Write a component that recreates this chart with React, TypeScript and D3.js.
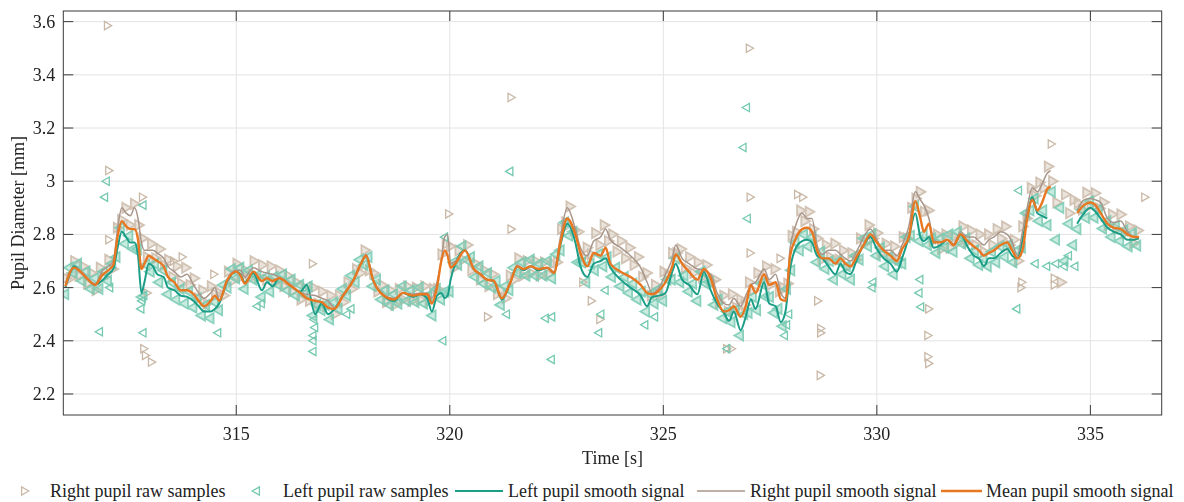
import * as d3 from 'd3';
import React from 'react';

// axis ticks
const timeTicks = [315, 320, 325, 330, 335];
const diamTicks = [2.2, 2.4, 2.6, 2.8, 3, 3.2, 3.4, 3.6];

// smooth signals (null = gap in the signal)
const smoothTime = [
  311.00, 311.10, 311.20, 311.35, 311.50, 311.70, 311.85, 312.00, 312.12, 312.22,
  312.32, 312.42, 312.52, 312.62, 312.70, 312.78, 312.85, 312.95, 313.05, 313.15,
  313.30, 313.40, 313.55, 313.70, 313.85, 314.00, 314.12, 314.25, 314.40, 314.50,
  314.60, 314.78, 315.00, 315.10, 315.20, 315.40, 315.60, 315.72, 315.85, 316.00,
  316.25, 316.50, 316.65, 316.85, 317.00, 317.15, 317.30, 317.50, 317.75, 317.92,
  318.04, 318.20, 318.45, 318.70, 318.90, 319.15, 319.31, 319.47, 319.58, 319.70,
  319.80, 319.88, 319.95, 320.02, 320.13, 320.36, 320.56, 320.72, 320.87, 321.03,
  321.22, 321.42, 321.58, 321.73, 321.89, 322.08, 322.28, 322.44, 322.59, 322.75,
  322.94, 323.06, 323.22, 323.37, 323.53, 323.65, 323.76, 324.00, 324.23, 324.47,
  324.62, 324.74, 324.90, 325.05, 325.21, 325.29, 325.44, 325.60, 325.80, 325.95,
  326.11, 326.26, 326.42, 326.54, 326.65, 326.81, 326.93, 327.05, 327.16, 327.36,
  327.48, 327.63, 327.75, 327.86, 327.97, 328.09, 328.25, 328.37, 328.48, 328.60,
  328.72, 328.87, 329.03, 329.15, 329.26, 329.38, 329.54, 329.69, 329.85, 330.00,
  330.16, 330.32, 330.47, 330.59, 330.75, 330.90, 331.02, 331.10, 331.22, 331.33,
  331.49, 331.65, 331.80, 331.96, 332.12, 332.27, 332.39, 332.51, 332.62, 332.74,
  332.90, 333.05, 333.17, 333.29, 333.41, 333.52, 333.64, 333.76, 333.87, 333.99,
  334.07, 334.35, 334.69, 334.85, 335.00, 335.12, 335.24, 335.40, 335.55, 335.71,
  335.87, 336.02, 336.14,
];

const leftSmooth = [
  2.60, 2.65, 2.68, 2.66, 2.635, 2.61, 2.625, 2.65, 2.67, 2.75,
  2.81, 2.79, 2.77, 2.77, 2.72, 2.58, 2.62, 2.69, 2.68, 2.65,
  2.64, 2.60, 2.59, 2.57, 2.565, 2.55, 2.53, 2.51, 2.51, 2.52,
  2.54, 2.62, 2.66, 2.65, 2.62, 2.655, 2.59, 2.62, 2.605, 2.635,
  2.61, 2.585, 2.61, 2.50, 2.54, 2.50, 2.52, 2.57, 2.63, 2.69,
  2.72, 2.63, 2.57, 2.55, 2.58, 2.565, 2.575, 2.56, 2.51, 2.57,
  2.58, 2.56, 2.57, 2.63, 2.69, 2.74, 2.67, 2.65, 2.63, 2.625,
  2.555, 2.62, 2.68, 2.665, 2.68, 2.665, 2.675, 2.655, 2.76, 2.84,
  2.77, 2.68, 2.64, 2.69, 2.70, 2.71, 2.675, 2.63, 2.60, 2.57,
  2.53, 2.565, 2.57, 2.58, 2.66, 2.69, 2.63, 2.61, 2.575, 2.66,
  2.59, 2.54, 2.505, 2.475, 2.51, 2.44, 2.49, 2.555, 2.52, 2.62,
  2.54, 2.53, 2.47, 2.51, 2.67, 2.745, 2.775, 2.78, 2.77, 2.72,
  2.71, 2.68, 2.65, 2.69, 2.66, 2.65, 2.71, 2.76, 2.79, 2.745,
  2.71, 2.69, 2.66, 2.71, 2.79, 2.88, 2.79, 2.775, 2.79, 2.75,
  2.76, 2.78, 2.76, 2.80, 2.755, 2.72, 2.71, 2.68, 2.71, 2.71,
  2.73, 2.745, 2.72, 2.71, 2.78, 2.87, 2.94, 2.88, 2.87, 2.86,
  null, null, 2.84, 2.88, 2.90, 2.885, 2.86, 2.825, 2.81, 2.80,
  2.78, 2.78, 2.785,
];

const rightSmooth = [
  2.61, 2.66, 2.675, 2.665, 2.64, 2.615, 2.66, 2.68, 2.70, 2.82,
  2.90, 2.88, 2.87, 2.90, 2.86, 2.77, 2.74, 2.74, 2.74, 2.73,
  2.71, 2.68, 2.66, 2.64, 2.65, 2.61, 2.58, 2.56, 2.58, 2.60,
  2.555, 2.63, 2.665, 2.665, 2.64, 2.675, 2.66, 2.655, 2.65, 2.64,
  2.615, 2.58, 2.575, 2.57, 2.56, 2.55, 2.525, 2.57, 2.63, 2.69,
  2.725, 2.63, 2.575, 2.56, 2.58, 2.575, 2.58, 2.58, 2.56, 2.62,
  2.70, 2.79, 2.80, 2.69, 2.70, 2.74, 2.67, 2.65, 2.63, 2.625,
  2.56, 2.625, 2.685, 2.67, 2.68, 2.67, 2.675, 2.66, 2.79, 2.90,
  2.82, 2.75, 2.72, 2.775, 2.79, 2.82, 2.78, 2.75, 2.72, 2.675,
  2.62, 2.58, 2.60, 2.65, 2.71, 2.76, 2.71, 2.69, 2.67, 2.665,
  2.65, 2.58, 2.54, 2.535, 2.56, 2.53, 2.57, 2.61, 2.62, 2.67,
  2.63, 2.65, 2.58, 2.56, 2.75, 2.83, 2.88, 2.86, 2.86, 2.76,
  2.725, 2.74, 2.74, 2.725, 2.71, 2.70, 2.74, 2.79, 2.82, 2.78,
  2.74, 2.74, 2.72, 2.76, 2.83, 2.96, 2.93, 2.91, 2.86, 2.78,
  2.77, 2.78, 2.765, 2.81, 2.79, 2.79, 2.775, 2.76, 2.78, 2.79,
  2.81, 2.80, 2.77, 2.72, 2.81, 2.90, 2.975, 2.96, 2.99, 3.03,
  3.04, null, 2.89, 2.93, 2.935, 2.93, 2.92, 2.86, 2.845, 2.85,
  2.81, 2.79, 2.79,
];

const meanSmooth = [
  2.605, 2.655, 2.675, 2.66, 2.635, 2.61, 2.645, 2.665, 2.685, 2.79,
  2.85, 2.83, 2.82, 2.82, 2.78, 2.67, 2.69, 2.72, 2.71, 2.70,
  2.68, 2.64, 2.62, 2.59, 2.59, 2.575, 2.55, 2.53, 2.55, 2.57,
  2.55, 2.625, 2.66, 2.645, 2.615, 2.66, 2.625, 2.635, 2.625, 2.635,
  2.61, 2.58, 2.56, 2.55, 2.545, 2.525, 2.52, 2.57, 2.63, 2.69,
  2.72, 2.63, 2.57, 2.555, 2.58, 2.57, 2.575, 2.575, 2.54, 2.60,
  2.70, 2.74, 2.72, 2.675, 2.69, 2.74, 2.67, 2.65, 2.63, 2.625,
  2.56, 2.62, 2.68, 2.67, 2.68, 2.67, 2.675, 2.655, 2.77, 2.86,
  2.80, 2.73, 2.68, 2.73, 2.72, 2.75, 2.69, 2.66, 2.64, 2.61,
  2.58, 2.575, 2.59, 2.62, 2.68, 2.725, 2.69, 2.66, 2.63, 2.67,
  2.635, 2.555, 2.51, 2.515, 2.53, 2.49, 2.53, 2.61, 2.58, 2.65,
  2.61, 2.62, 2.556, 2.55, 2.72, 2.78, 2.82, 2.825, 2.81, 2.74,
  2.71, 2.71, 2.69, 2.71, 2.69, 2.68, 2.72, 2.76, 2.80, 2.77,
  2.74, 2.72, 2.70, 2.745, 2.79, 2.925, 2.86, 2.81, 2.84, 2.77,
  2.77, 2.78, 2.76, 2.80, 2.775, 2.755, 2.74, 2.72, 2.73, 2.74,
  2.76, 2.77, 2.74, 2.71, 2.74, 2.86, 2.93, 2.89, 2.92, 2.97,
  2.98, null, 2.88, 2.91, 2.92, 2.91, 2.88, 2.84, 2.825, 2.82,
  2.80, 2.79, 2.79,
];

// raw samples, one every 0.1 s starting at 311.0 s (one row per second)
const rawStart = 311.0;
const rawStep = 0.1;

const rightRaw = [
  2.635, 2.635, 2.70, 2.645, 2.68, 2.615, 2.655, 2.59, 2.675, 2.64,
  2.705, 2.67, 2.825, 2.855, 2.90, 2.835, 2.915, 2.835, 2.785, 2.715,
  2.765, 2.71, 2.745, 2.685, 2.705, 2.64, 2.68, 2.615, 2.675, 2.61,
  2.635, 2.56, 2.59, 2.54, 2.605, 2.575, 2.58, 2.57, 2.66, 2.625,
  2.69, 2.64, 2.665, 2.635, 2.70, 2.64, 2.685, 2.63, 2.68, 2.62,
  2.665, 2.605, 2.645, 2.585, 2.62, 2.555, 2.60, 2.55, 2.60, 2.54,
  2.585, 2.53, 2.57, 2.50, 2.57, 2.545, 2.62, 2.595, 2.67, 2.655,
  2.74, 2.665, 2.655, 2.585, 2.61, 2.545, 2.59, 2.535, 2.595, 2.555,
  2.605, 2.55, 2.60, 2.555, 2.605, 2.55, 2.595, 2.595, 2.725, 2.765,
  2.755, 2.675, 2.74, 2.705, 2.76, 2.665, 2.69, 2.63, 2.665, 2.605,
  2.65, 2.575, 2.59, 2.56, 2.645, 2.63, 2.71, 2.645, 2.70, 2.655,
  2.70, 2.645, 2.695, 2.65, 2.69, 2.695, 2.82, 2.845, 2.905, 2.815,
  2.81, 2.715, 2.75, 2.725, 2.805, 2.76, 2.835, 2.775, 2.80, 2.735,
  2.775, 2.71, 2.75, 2.685, 2.715, 2.64, 2.655, 2.57, 2.61, 2.575,
  2.66, 2.645, 2.73, 2.73, 2.745, 2.675, 2.715, 2.655, 2.695, 2.64,
  2.685, 2.625, 2.63, 2.545, 2.57, 2.51, 2.575, 2.525, 2.555, 2.535,
  2.62, 2.59, 2.655, 2.63, 2.68, 2.61, 2.67, 2.585, 2.60, 2.615,
  2.795, 2.81, 2.89, 2.85, 2.885, 2.82, 2.785, 2.705, 2.76, 2.715,
  2.765, 2.705, 2.74, 2.68, 2.73, 2.705, 2.785, 2.765, 2.835, 2.785,
  2.805, 2.73, 2.765, 2.715, 2.755, 2.705, 2.79, 2.785, 2.90, 2.935,
  2.96, 2.885, 2.89, 2.775, 2.80, 2.745, 2.80, 2.75, 2.79, 2.77,
  2.83, 2.77, 2.815, 2.76, 2.80, 2.735, 2.80, 2.76, 2.82, 2.785,
  2.83, 2.76, 2.78, 2.70, 2.83, 2.86, 2.975, 2.945, 2.995, 2.975,
  3.055, 3.00, 2.92, 2.62, 2.95, 2.88, 2.93, 2.918, 2.893, 2.957,
  2.91, 2.955, 2.898, 2.921, 2.835, 2.875, 2.822, 2.875, 2.805, 2.83,
  2.767, 2.815,
];

const leftRaw = [
  2.575, 2.675, 2.655, 2.69, 2.625, 2.66, 2.595, 2.635, 2.595, 2.66,
  2.625, 2.69, 2.715, 2.825, 2.765, 2.795, 2.745, 2.745, 2.565, 2.685,
  2.66, 2.69, 2.62, 2.665, 2.575, 2.62, 2.555, 2.595, 2.54, 2.585,
  2.525, 2.56, 2.495, 2.535, 2.485, 2.545, 2.515, 2.61, 2.60, 2.67,
  2.635, 2.675, 2.595, 2.665, 2.63, 2.645, 2.565, 2.64, 2.585, 2.64,
  2.61, 2.65, 2.59, 2.63, 2.57, 2.61, 2.575, 2.605, 2.495, 2.535,
  2.515, 2.535, 2.48, 2.545, 2.52, 2.595, 2.57, 2.645, 2.62, 2.705,
  2.685, 2.715, 2.605, 2.63, 2.555, 2.59, 2.535, 2.575, 2.54, 2.605,
  2.55, 2.59, 2.545, 2.60, 2.54, 2.57, 2.495, 2.595, 2.555, 2.585,
  2.585, 2.695, 2.685, 2.755, 2.705, 2.715, 2.64, 2.68, 2.615, 2.655,
  2.60, 2.625, 2.535, 2.605, 2.59, 2.675, 2.655, 2.695, 2.645, 2.705,
  2.645, 2.69, 2.645, 2.70, 2.635, 2.725, 2.74, 2.845, 2.795, 2.81,
  2.695, 2.695, 2.62, 2.69, 2.665, 2.725, 2.68, 2.715, 2.64, 2.675,
  2.605, 2.64, 2.58, 2.615, 2.555, 2.585, 2.51, 2.575, 2.54, 2.595,
  2.55, 2.63, 2.63, 2.71, 2.62, 2.645, 2.585, 2.615, 2.55, 2.66,
  2.615, 2.62, 2.535, 2.555, 2.485, 2.51, 2.47, 2.515, 2.42, 2.50,
  2.505, 2.565, 2.515, 2.615, 2.565, 2.565, 2.505, 2.52, 2.455, 2.595,
  2.665, 2.77, 2.74, 2.80, 2.755, 2.79, 2.695, 2.735, 2.67, 2.70,
  2.63, 2.70, 2.65, 2.68, 2.63, 2.72, 2.705, 2.785, 2.755, 2.80,
  2.72, 2.75, 2.68, 2.715, 2.65, 2.695, 2.69, 2.79, 2.795, 2.905,
  2.775, 2.80, 2.76, 2.785, 2.73, 2.785, 2.75, 2.80, 2.735, 2.81,
  2.765, 2.785, 2.71, 2.74, 2.685, 2.71, 2.68, 2.735, 2.695, 2.755,
  2.715, 2.76, 2.695, 2.74, 2.75, 2.88, 2.89, 2.935, 2.85, 2.89,
  2.835, 2.96, 2.78, 2.90, 2.70, 2.84, 2.76, 2.82, 2.893, 2.862,
  2.925, 2.863, 2.893, 2.822, 2.85, 2.79, 2.832, 2.775, 2.815, 2.755,
  2.805, 2.758,
];

// stray raw samples away from the band [time, diameter]
const rightOutliers = [
  [311.97, 3.585], [312.0, 3.04], [312.79, 2.94], [312.82, 2.37], [312.86, 2.345],
  [313.0, 2.32], [312.0, 2.78], [313.72, 2.715], [313.52, 2.70], [314.46, 2.65],
  [316.77, 2.69], [312.9, 2.58], [327.0, 3.50], [321.42, 3.315], [321.42, 2.82],
  [319.96, 2.877], [327.02, 2.94], [320.87, 2.49], [327.02, 2.73], [327.72, 2.71],
  [326.47, 2.37], [326.58, 2.37], [328.67, 2.446], [328.67, 2.43], [328.66, 2.27],
  [331.18, 2.42], [331.18, 2.34], [331.2, 2.315], [328.13, 2.95], [328.25, 2.94],
  [328.6, 2.55], [331.2, 2.52], [336.26, 2.94], [334.07, 3.14], [333.38, 2.62],
  [333.36, 2.60], [334.14, 2.61], [334.14, 2.635], [323.3, 2.55], [323.5, 2.48],
  [323.1, 2.62],
];

const leftOutliers = [
  [311.81, 2.434], [312.83, 2.43], [314.58, 2.43], [316.81, 2.36], [316.81, 2.40],
  [316.81, 2.42], [311.97, 3.0], [311.93, 2.94], [312.83, 2.91], [312.05, 2.60],
  [312.8, 2.55], [312.78, 2.52], [312.85, 2.57], [321.42, 3.037], [326.96, 3.277],
  [326.88, 3.127], [326.98, 2.86], [319.89, 2.79], [322.39, 2.33], [319.85, 2.40],
  [321.34, 2.50], [322.25, 2.485], [322.4, 2.49], [324.58, 2.46], [326.5, 2.37],
  [324.81, 2.49], [323.65, 2.59], [315.5, 2.53], [315.6, 2.54], [316.85, 2.45],
  [316.83, 2.48], [317.6, 2.50], [317.7, 2.52], [323.5, 2.43], [323.55, 2.50],
  [327.85, 2.42], [327.9, 2.46], [327.95, 2.50], [329.9, 2.60], [329.92, 2.62],
  [331.02, 2.63], [331.0, 2.58], [331.04, 2.527], [333.33, 2.965], [333.29, 2.52],
  [333.72, 2.69], [333.99, 2.68], [334.2, 2.69], [334.4, 2.68], [334.65, 2.68],
  [334.5, 2.72],
];

const legendLabels = [
  'Right pupil raw samples',
  'Left pupil raw samples',
  'Left pupil smooth signal',
  'Right pupil smooth signal',
  'Mean pupil smooth signal',
];

const colors = {
  left: '#1b9e87',
  right: '#a8958a',
  mean: '#e87722',
  rightRaw: '#c9b8a6',
  leftRaw: '#74c9b0',
  axis: '#3a3a3a',
  grid: '#e3e3e3',
  text: '#222',
};

const font = "'Liberation Serif', 'Times New Roman', Times, serif";

function App() {
  const W = 1184;
  const H = 502;
  const plot = { left: 63.3, right: 1161.7, top: 11, bottom: 415 };

  const x = d3.scaleLinear().domain([310.95, 336.67]).range([plot.left, plot.right]);
  const y = d3.scaleLinear().domain([2.121, 3.64]).range([plot.bottom, plot.top]);

  const bandTri = d3.symbol().type(d3.symbolTriangle).size(44)() as string;
  const tri = d3.symbol().type(d3.symbolTriangle).size(30)() as string;

  const lineFor = (values: (number | null)[]) =>
    d3.line<number | null>()
      .defined(v => v != null)
      .x((_, i) => x(smoothTime[i]))
      .y(v => y(v as number))
      .curve(d3.curveMonotoneX)(values) as string;

  const rawPts = (values: number[]) => values.map((v, i) => [rawStart + i * rawStep, v]);

  const tickLen = 10;
  const legendY = 491;
  const textStyle = { fontFamily: font };

  return (
    <div style={{ position: 'absolute', left: 0, top: 0 }}>
      <svg width={W} height={H} style={{ display: 'block', background: '#fff' }}>
        <defs>
          <clipPath id="plot-clip">
            <rect x={plot.left} y={plot.top} width={plot.right - plot.left} height={plot.bottom - plot.top} />
          </clipPath>
        </defs>

        {/* grid */}
        <g stroke={colors.grid} strokeWidth={1}>
          {timeTicks.map(t => (
            <line key={'gx' + t} x1={x(t)} x2={x(t)} y1={plot.top} y2={plot.bottom} />
          ))}
          {diamTicks.map(d => (
            <line key={'gy' + d} x1={plot.left} x2={plot.right} y1={y(d)} y2={y(d)} />
          ))}
        </g>

        <g clipPath="url(#plot-clip)">
          {/* raw samples: dense band */}
          <g fill={colors.rightRaw} fillOpacity={0.45} stroke={colors.rightRaw} strokeWidth={1.8} opacity={0.85}>
            {rawPts(rightRaw).map((p, i) => (
              <path key={'r' + i} d={bandTri} transform={`translate(${x(p[0])},${y(p[1])}) rotate(90)`} />
            ))}
          </g>
          <g fill={colors.leftRaw} fillOpacity={0.45} stroke={colors.leftRaw} strokeWidth={1.8} opacity={0.85}>
            {rawPts(leftRaw).map((p, i) => (
              <path key={'l' + i} d={bandTri} transform={`translate(${x(p[0])},${y(p[1])}) rotate(-90)`} />
            ))}
          </g>
          {/* raw samples: stray points */}
          <g fill="none" stroke={colors.rightRaw} strokeWidth={1.3}>
            {rightOutliers.map((p, i) => (
              <path key={'ro' + i} d={tri} transform={`translate(${x(p[0])},${y(p[1])}) rotate(90)`} />
            ))}
          </g>
          <g fill="none" stroke={colors.leftRaw} strokeWidth={1.3}>
            {leftOutliers.map((p, i) => (
              <path key={'lo' + i} d={tri} transform={`translate(${x(p[0])},${y(p[1])}) rotate(-90)`} />
            ))}
          </g>

          {/* smooth signals */}
          <path d={lineFor(leftSmooth)} fill="none" stroke={colors.left} strokeWidth={2} />
          <path d={lineFor(rightSmooth)} fill="none" stroke={colors.right} strokeWidth={1.5} />
          <path d={lineFor(meanSmooth)} fill="none" stroke={colors.mean} strokeWidth={2.4} />
        </g>

        {/* box and ticks */}
        <rect x={plot.left} y={plot.top} width={plot.right - plot.left} height={plot.bottom - plot.top}
          fill="none" stroke={colors.axis} strokeWidth={1} />
        <g stroke={colors.axis} strokeWidth={1}>
          {timeTicks.map(t => (
            <g key={'tx' + t}>
              <line x1={x(t)} x2={x(t)} y1={plot.bottom} y2={plot.bottom - tickLen} />
              <line x1={x(t)} x2={x(t)} y1={plot.top} y2={plot.top + tickLen} />
            </g>
          ))}
          {diamTicks.map(d => (
            <g key={'ty' + d}>
              <line x1={plot.left} x2={plot.left + tickLen} y1={y(d)} y2={y(d)} />
              <line x1={plot.right} x2={plot.right - tickLen} y1={y(d)} y2={y(d)} />
            </g>
          ))}
        </g>

        {/* tick labels */}
        <g fill={colors.text} fontSize={18} style={textStyle}>
          {timeTicks.map(t => (
            <text key={'lx' + t} x={x(t)} y={440} textAnchor="middle">{t}</text>
          ))}
          {diamTicks.map(d => (
            <text key={'ly' + d} x={plot.left - 8} y={y(d)} textAnchor="end" dominantBaseline="central">{String(d)}</text>
          ))}
        </g>

        {/* axis titles */}
        <text x={(plot.left + plot.right) / 2} y={464} textAnchor="middle" fontSize={18} fill={colors.text}
          style={textStyle}>Time [s]</text>
        <text transform={`translate(18,${(plot.top + plot.bottom) / 2}) rotate(-90)`} textAnchor="middle"
          dominantBaseline="central" fontSize={18} fill={colors.text} style={textStyle}>Pupil Diameter [mm]</text>

        {/* legend */}
        <g fontSize={18} fill={colors.text} style={textStyle}>
          <path d={tri} transform={`translate(24,${legendY}) rotate(90)`} fill="none" stroke={colors.rightRaw} strokeWidth={1.3} />
          <text x={50} y={legendY} dominantBaseline="central">{legendLabels[0]}</text>

          <path d={tri} transform={`translate(257,${legendY}) rotate(-90)`} fill="none" stroke={colors.leftRaw} strokeWidth={1.3} />
          <text x={283} y={legendY} dominantBaseline="central">{legendLabels[1]}</text>

          <line x1={455} x2={503} y1={legendY} y2={legendY} stroke={colors.left} strokeWidth={2} />
          <text x={508} y={legendY} dominantBaseline="central">{legendLabels[2]}</text>

          <line x1={697} x2={745} y1={legendY} y2={legendY} stroke={colors.right} strokeWidth={1.5} />
          <text x={750} y={legendY} dominantBaseline="central">{legendLabels[3]}</text>

          <line x1={941} x2={982} y1={legendY} y2={legendY} stroke={colors.mean} strokeWidth={2.4} />
          <text x={986} y={legendY} dominantBaseline="central">{legendLabels[4]}</text>
        </g>
      </svg>
    </div>
  );
}

export default App;
